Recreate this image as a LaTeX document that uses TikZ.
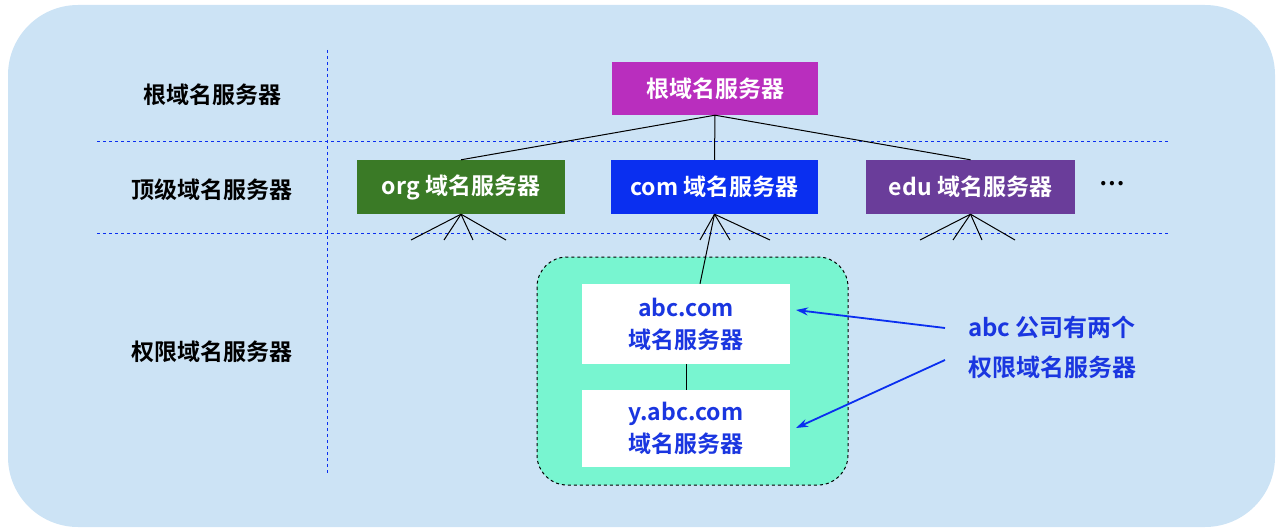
\documentclass[tikz,border=0pt]{standalone}
\usepackage{fontspec}
\setmainfont{Noto Sans CJK SC}[BoldFont={* Bold}]
\usetikzlibrary{arrows.meta}
\definecolor{bg}{HTML}{CCE3F5}
\definecolor{rootc}{HTML}{B92EBE}
\definecolor{orgc}{HTML}{3A7A26}
\definecolor{comcol}{HTML}{0A2FF0}
\definecolor{educ}{HTML}{6A3D9A}
\definecolor{grn}{HTML}{78F5D0}
\definecolor{txtb}{HTML}{1A36E0}
\tikzset{
 lvl/.style={font=\bfseries\fontsize{23}{26}\selectfont,text=black},
 srv/.style={font=\bfseries\fontsize{23}{26}\selectfont,text=white,inner sep=0pt},
 auth/.style={fill=white,font=\bfseries\fontsize{23}{32}\selectfont,text=txtb,align=center,inner sep=0pt},
 sep/.style={draw=comcol,dashed,line width=1pt},
 ln/.style={black,line width=1pt},
 arr/.style={draw=comcol,line width=1.8pt,-{Stealth[length=12pt,width=8pt]}}
}
\begin{document}
\begin{tikzpicture}[x=1pt,y=-1pt]
\useasboundingbox (0,0) rectangle (1282,532);
\fill[bg,rounded corners=70pt] (8,5) rectangle (1275,527);
\draw[sep] (327,50) -- (327,475);
\draw[sep] (97,142) -- (1170,142);
\draw[sep] (97,233) -- (1170,233);
\node[lvl] (l1) at (212,95) {根域名服务器};
\node[lvl] (l2) at (212,190) {顶级域名服务器};
\node[lvl] (l3) at (212,352) {权限域名服务器};
\node[srv,fill=rootc,minimum width=206pt,minimum height=53pt] (root) at (715,88.5) {根域名服务器};
\node[srv,fill=orgc,minimum width=208pt,minimum height=54pt] (org) at (461,187) {org 域名服务器};
\node[srv,fill=comcol,minimum width=207pt,minimum height=54pt] (com) at (714.5,187) {com 域名服务器};
\node[srv,fill=educ,minimum width=209pt,minimum height=54pt] (edu) at (970.5,187) {edu 域名服务器};
\node[lvl] (dots) at (1112,184) {…};
\draw[ln] (root.south) -- (org.north);
\draw[ln] (root.south) -- (com.north);
\draw[ln] (root.south) -- (edu.north);
\foreach \n/\x in {org/461,edu/970}{
  \coordinate (\n a) at (\x-50,240);
  \coordinate (\n b) at (\x-17,240);
  \coordinate (\n c) at (\x+12,240);
  \coordinate (\n d) at (\x+45,240);
  \foreach \k in {a,b,c,d}{\draw[ln] (\n.south) -- (\n\k);}
}
\coordinate (cmb) at (700,240);
\coordinate (cmc) at (730,240);
\coordinate (cmd) at (770,240);
\foreach \k in {b,c,d}{\draw[ln] (com.south) -- (cm\k);}
\draw[dashed,line width=1pt,fill=grn,rounded corners=30pt] (537,257) rectangle (848,485);
\node[auth,minimum width=208pt,minimum height=80pt] (abc) at (686,324) {abc.com\\域名服务器};
\node[auth,minimum width=208pt,minimum height=77pt] (yabc) at (686,428.5) {y.abc.com\\域名服务器};
\draw[ln] (com.south) -- (abc.north -| 700,0);
\draw[ln] (abc.south) -- (yabc.north);
\node[font=\bfseries\fontsize{24}{40}\selectfont,text=txtb,align=center] (note) at (1052,347) {abc 公司有两个\\权限域名服务器};
\coordinate (n1) at (945,328);
\coordinate (n2) at (945,360);
\draw[arr] (n1) -- (796,310);
\draw[arr] (n2) -- (796,428);
\end{tikzpicture}
\end{document}
